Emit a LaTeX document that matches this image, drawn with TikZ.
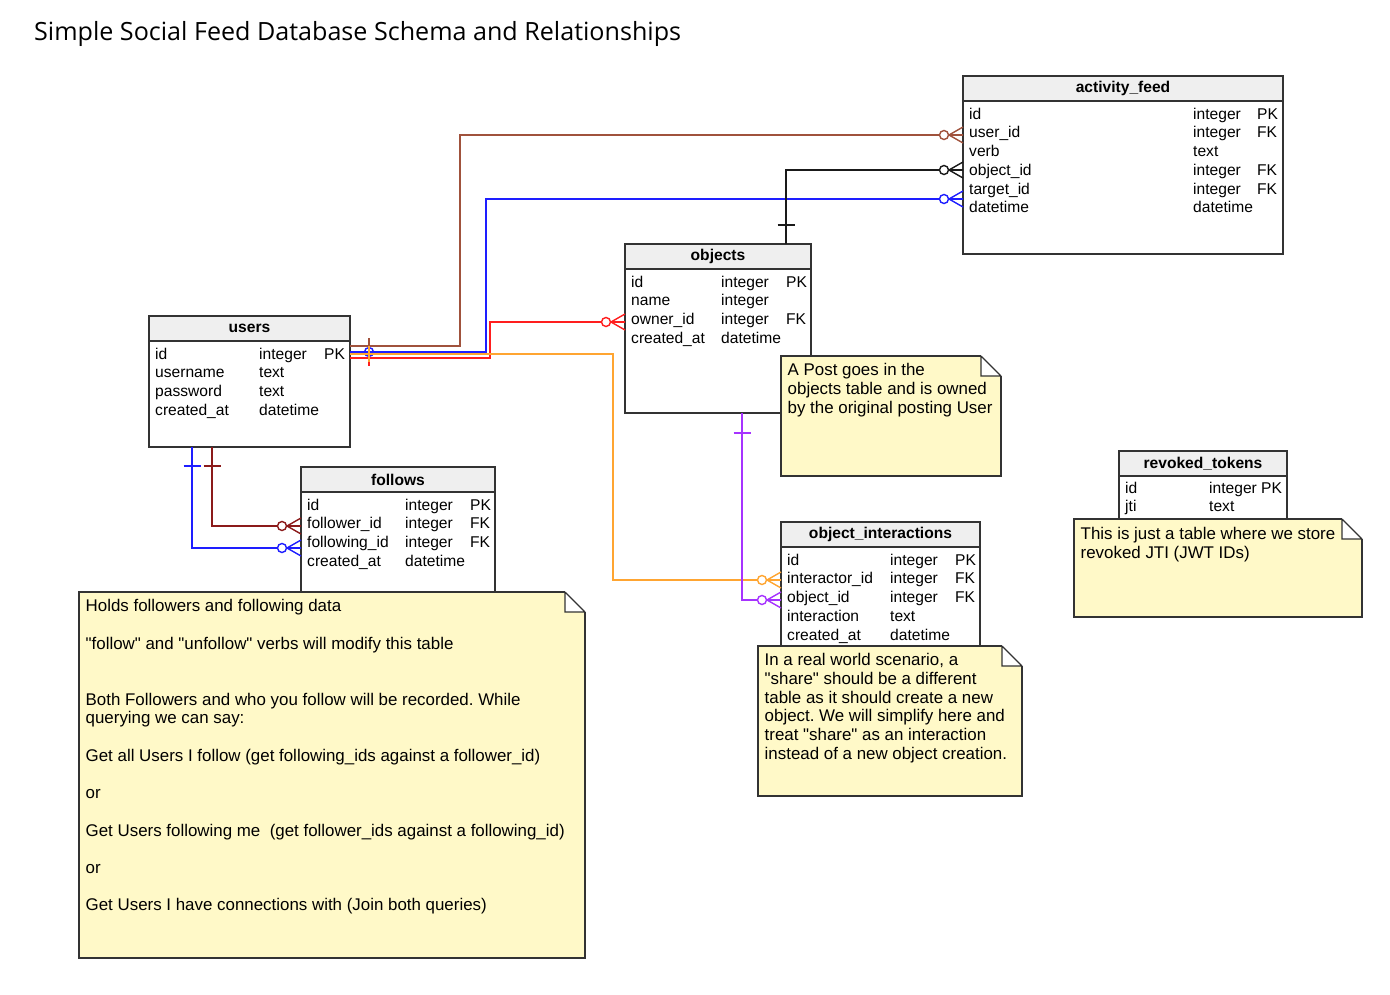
\documentclass[tikz,border=0pt]{standalone}
\usepackage{fontspec}
\setmainfont{Liberation Sans}[Ligatures=TeXOff]
\newfontfamily\titlefont{Open Sans}
\usetikzlibrary{arrows.meta,positioning,calc}
\usepackage{xcolor}
\frenchspacing
\definecolor{ink}{HTML}{333333}
\definecolor{headfill}{HTML}{EFEFEF}
\definecolor{notefill}{HTML}{FFF9C8}
\definecolor{relbrownc}{HTML}{A0523C}
\definecolor{relmaroonc}{HTML}{8B1A1A}
\definecolor{relbluec}{HTML}{1E1EFF}
\definecolor{relredc}{HTML}{FF1E1E}
\definecolor{relorangec}{HTML}{FFA531}
\definecolor{relpurplec}{HTML}{A633FF}
\definecolor{relblackc}{HTML}{1A1A1A}
\newcommand{\rowfont}{\fontsize{15.6}{18.7}\selectfont}
\newcommand{\notefont}{\fontsize{16.9}{18.7}\selectfont}
\newcommand{\qt}{\symbol{34}}
\tikzset{
  every node/.style={font=\rowfont,text=black},
  tabhead/.style={draw=ink,line width=1.4pt,fill=headfill,anchor=north west,minimum height=25pt,inner sep=0pt,outer sep=0pt,font=\rowfont\bfseries},
  tabbody/.style={draw=ink,line width=1.4pt,fill=white,anchor=north west,inner sep=0pt,outer sep=0pt},
  fields/.style={anchor=north west,inner sep=0pt},
  notebox/.style={draw=ink,line width=1.2pt,fill=notefill,anchor=north west,inner sep=0pt,outer sep=0pt},
  notebord/.style={draw=ink,line width=1.2pt},
  notetext/.style={anchor=north west,inner sep=0pt,align=left,font=\notefont},
  rel/.style={line width=1.4pt},
  relbrown/.style={rel,color=relbrownc},
  relmaroon/.style={rel,color=relmaroonc},
  relblue/.style={rel,color=relbluec},
  relred/.style={rel,color=relredc},
  relorange/.style={rel,color=relorangec},
  relpurple/.style={rel,color=relpurplec},
  relblack/.style={rel,color=relblackc},
  manyopt/.pic={
    \draw (-14,0) -- (0,-8) (-14,0) -- (0,0) (-14,0) -- (0,8);
    \draw[fill=white] (-19,0) circle[radius=4.5];
  },
  tickv/.pic={\draw (0,-8) -- (0,8);},
  tickh/.pic={\draw (-8.5,0) -- (8.5,0);},
  zeroone/.pic={\draw (0,0) circle[radius=4.5];},
}
\newcommand{\notefold}[1]{%
  \fill[white] ([xshift=-20pt,yshift=1pt]#1.north east) rectangle ([xshift=1pt,yshift=-20pt]#1.north east);
  \draw[notebord] ([xshift=-20pt]#1.north east) -- ([yshift=-20pt]#1.north east)
    ([xshift=-20pt]#1.north east) |- ([yshift=-20pt]#1.north east);}

\begin{document}
\begin{tikzpicture}[x=1pt,y=-1pt]
  \useasboundingbox (0,0) rectangle (1390,995);
  \node[anchor=west,inner sep=0pt,font=\titlefont\fontsize{25.1}{30}\selectfont] (title) at (34,34) {Simple Social Feed Database Schema and Relationships};

  % tables
  \node[tabhead,minimum width=201pt] (users) at (149,316) {users};
  \node[tabbody,minimum width=201pt,minimum height=106pt] (users-b) at (149,341) {};
  \node[fields] (users-f) at (155,346) {\begin{tabular}{@{}p{104pt}@{}p{65pt}@{}l@{}}
    id & integer & PK\\ username & text & \\ password & text & \\ created\_at & datetime &
  \end{tabular}};

  \node[tabhead,minimum width=194pt] (follows) at (301,467) {follows};
  \node[tabbody,minimum width=194pt,minimum height=120pt] (follows-b) at (301,492) {};
  \node[fields] (follows-f) at (307,497) {\begin{tabular}{@{}p{98pt}@{}p{65pt}@{}l@{}}
    id & integer & PK\\ follower\_id & integer & FK\\ following\_id & integer & FK\\ created\_at & datetime &
  \end{tabular}};

  \node[tabhead,minimum width=186pt] (objects) at (625,244) {objects};
  \node[tabbody,minimum width=186pt,minimum height=144pt] (objects-b) at (625,269) {};
  \node[fields] (objects-f) at (631,274) {\begin{tabular}{@{}p{90pt}@{}p{65pt}@{}l@{}}
    id & integer & PK\\ name & integer & \\ owner\_id & integer & FK\\ created\_at & datetime &
  \end{tabular}};

  \node[tabhead,minimum width=320pt] (af) at (963,76) {activity\_feed};
  \node[tabbody,minimum width=320pt,minimum height=153pt] (af-b) at (963,101) {};
  \node[fields] (af-f) at (969,106) {\begin{tabular}{@{}p{224pt}@{}p{64pt}@{}l@{}}
    id & integer & PK\\ user\_id & integer & FK\\ verb & text & \\ object\_id & integer & FK\\
    target\_id & integer & FK\\ datetime & datetime &
  \end{tabular}};

  \node[tabhead,minimum width=199pt] (oi) at (781,522) {object\_interactions};
  \node[tabbody,minimum width=199pt,minimum height=110pt] (oi-b) at (781,547) {};
  \node[fields] (oi-f) at (787,552) {\begin{tabular}{@{}p{103pt}@{}p{65pt}@{}l@{}}
    id & integer & PK\\ interactor\_id & integer & FK\\ object\_id & integer & FK\\
    interaction & text & \\ created\_at & datetime &
  \end{tabular}};

  \node[tabhead,minimum width=168pt] (rt) at (1119,451) {revoked\_tokens};
  \node[tabbody,minimum width=168pt,minimum height=55pt] (rt-b) at (1119,476) {};
  \node[fields] (rt-f) at (1125,480) {\begin{tabular}{@{}p{84pt}@{}l@{}}
    id & integer PK\\ jti & text
  \end{tabular}};

  % relationships
  \draw[relbrown] ([yshift=-5pt]users-b.north east) -- ++(19,0) pic[relbrown]{tickv} -- ++(91,0)
    |- ([yshift=-34pt]af-b.north west) pic[relbrown]{manyopt};
  \draw[relblue] ([yshift=-11pt]users-b.north east) -- ++(19,0) pic[relblue]{zeroone} -- ++(117,0)
    |- ([yshift=-98pt]af-b.north west) pic[relblue]{manyopt};
  \draw[relred] ([yshift=-17pt]users-b.north east) -- ++(19,0) pic[relred]{tickv} -- ++(121,0)
    |- ([yshift=-53pt]objects-b.north west) pic[relred]{manyopt};
  \draw[relorange] ([yshift=-13pt]users-b.north east) -- ++(19,0) pic[relorange]{tickv} -- ++(244,0)
    |- ([yshift=-33pt]oi-b.north west) pic[relorange]{manyopt};
  \draw[relmaroon] ([xshift=-37.5pt]users-b.south) -- ++(0,19) pic[relmaroon]{tickh}
    |- ([yshift=-34pt]follows-b.north west) pic[relmaroon]{manyopt};
  \draw[relblue] ([xshift=-57.5pt]users-b.south) -- ++(0,19) pic[relblue]{tickh}
    |- ([yshift=-56pt]follows-b.north west) pic[relblue]{manyopt};
  \draw[relblack] ([xshift=-25pt]objects.north east) -- ++(0,-19) pic[relblack]{tickh}
    |- ([yshift=-69pt]af-b.north west) pic[relblack]{manyopt};
  \draw[relpurple] ([xshift=24pt]objects-b.south) -- ++(0,20) pic[relpurple]{tickh}
    |- ([yshift=-53pt]oi-b.north west) pic[relpurple]{manyopt};

  % notes
  \node[notebox,minimum width=506pt,minimum height=366pt] (follows-note) at (79,592) {};
  \notefold{follows-note}
  \node[notetext] (follows-note-t) at (85.5,598.5) {\strut Holds followers and following data\\[18.7pt]
    \qt follow\qt{} and \qt unfollow\qt{} verbs will modify this table\\[37.4pt]
    Both Followers and who you follow will be recorded. While\\
    querying we can say:\\[18.7pt]
    Get all Users I follow (get following\_ids against a follower\_id)\\[18.7pt]
    or\\[18.7pt]
    Get Users following me~ (get follower\_ids against a following\_id)\\[18.7pt]
    or\\[18.7pt]
    Get Users I have connections with (Join both queries)};

  \node[notebox,minimum width=220pt,minimum height=120pt] (objects-note) at (781,356) {};
  \notefold{objects-note}
  \node[notetext] (objects-note-t) at (787.5,362.5) {\strut A Post goes in the\\
    objects table and is owned\\by the original posting User};

  \node[notebox,minimum width=264pt,minimum height=150pt] (oi-note) at (758,646) {};
  \notefold{oi-note}
  \node[notetext] (oi-note-t) at (764.5,652.5) {\strut In a real world scenario, a\\
    \qt share\qt{} should be a different\\table as it should create a new\\
    object. We will simplify here and\\treat \qt share\qt{} as an interaction\\
    instead of a new object creation.};

  \node[notebox,minimum width=288pt,minimum height=98pt] (rt-note) at (1074,519) {};
  \notefold{rt-note}
  \node[notetext] (rt-note-t) at (1080.5,526.5) {\strut This is just a table where we store\\
    revoked JTI (JWT IDs)};
\end{tikzpicture}
\end{document}
